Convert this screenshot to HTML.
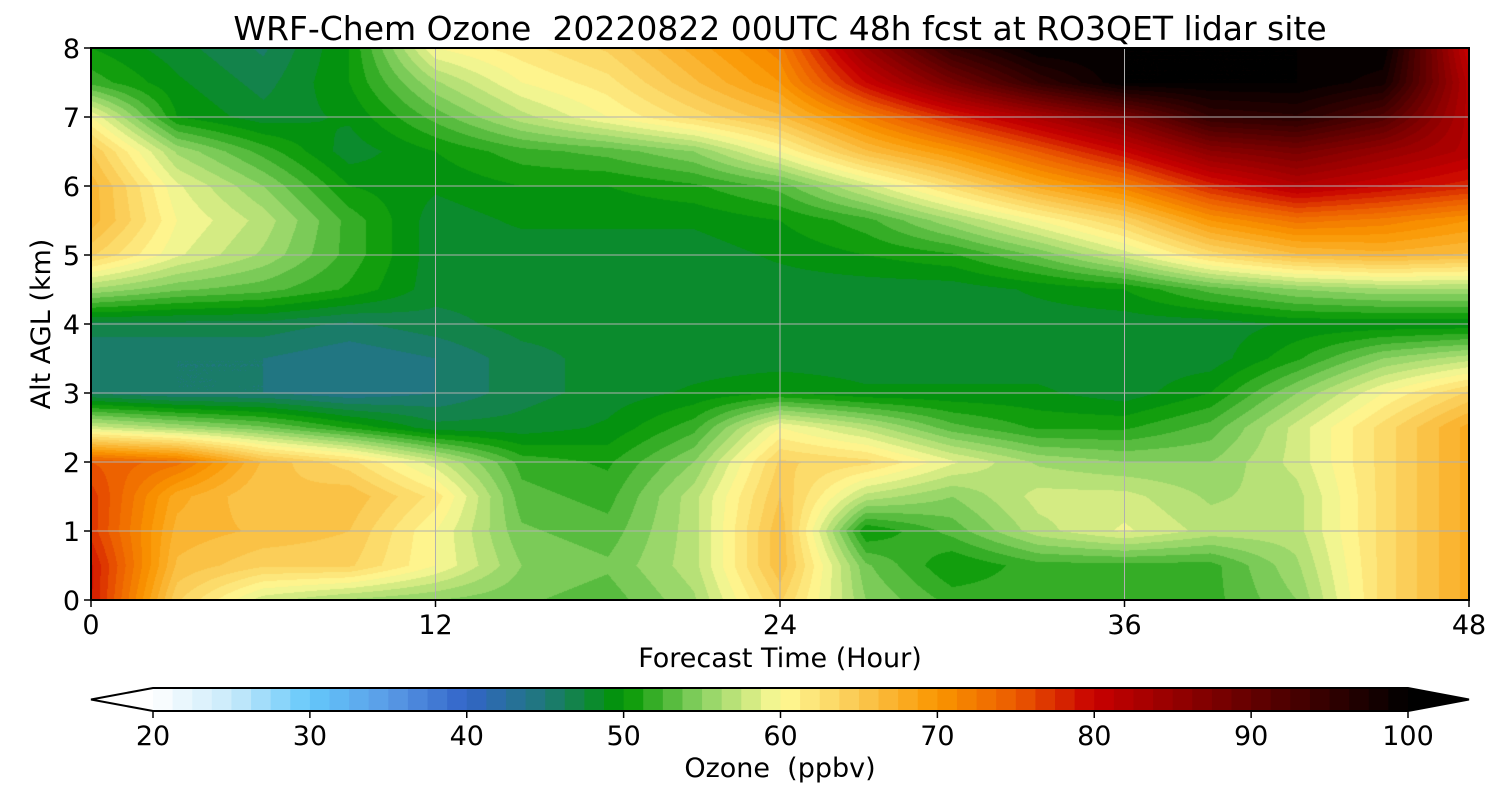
<!DOCTYPE html>
<html><head><meta charset="utf-8">
<style>
body{margin:0;background:#fff;width:1500px;height:800px;position:relative;overflow:hidden;font-family:"DejaVu Sans","Liberation Sans",sans-serif}
#plot{position:absolute;left:91px;top:48px}
svg{position:absolute;left:0;top:0}
text{white-space:pre}
</style></head>
<body>
<canvas id="plot" width="1378" height="552"></canvas>
<svg id="chart" width="1500" height="800"></svg>
<script>
const times=[0,3,6,9,12,15,18,21,24,27,30,33,36,39,42,45,48];
const heights=[8,7.5,7,6.5,6,5.5,5,4.5,4,3.5,3,2.5,2,1.5,1,0.5,0];
const ozone=[
[50,48,46,50,60,62,64,68,72,85,95,100,100,100,100,100,80],
[52,49,47,50,56,60,62,66,70,80,88,95,100,100,100,98,82],
[60,50,48,49,53,57,60,63,66,72,78,83,88,95,96,92,82],
[65,56,52,48,50,52,53,55,60,66,70,75,80,86,88,85,82],
[67,59,55,50,49,50,50,51,53,58,63,68,72,78,82,80,78],
[67,60,57,52,48,49,49,49,50,52,56,60,64,70,73,72,70],
[64,59,56,52,48,48,48,48,49,50,51,54,58,63,66,67,66],
[56,54,53,51,48,48,48,48,48,48,48,49,50,53,55,56,56],
[47,47,47,46,47,48,48,48,48,48,48,48,48,48,49,49,49],
[45,45,45,44,45,47,48,48,48,48,48,48,48,48,51,55,57],
[46,45,45,44,45,47,48,49,50,49,49,49,48,50,55,60,64],
[58,56,54,51,48,48,49,52,60,57,53,51,51,53,58,63,68],
[75,73,66,63,58,52,51,55,64,63,59,56,55,55,58,63,68],
[77,68,65,66,62,53,52,57,65,57,55,58,58,56,57,63,68],
[77,67,66,65,60,54,53,57,66,50,53,57,59,57,57,63,68],
[79,66,64,64,60,55,54,57,66,54,50,52,52,52,56,63,68],
[79,64,58,56,55,54,53,56,64,55,52,52,52,52,55,63,68]];
const xTicks=[0,12,24,36,48];
const yTicks=[0,1,2,3,4,5,6,7,8];
const cbTicks=[20,30,40,50,60,70,80,90,100];
const stops=[[20,'#ffffff'],[25,'#c8eafa'],[30,'#64c8fa'],[35,'#5a9be6'],[40,'#3264c8'],[45,'#1e7878'],[50,'#009600'],[55,'#8cd264'],[60,'#fffa96'],[65,'#fac850'],[70,'#fa9600'],[75,'#eb5a00'],[80,'#c80000'],[90,'#640000'],[100,'#000000']];

const PL=91,PR=1469,PT=48,PB=600;
const xs=t=>PL+(t-0)/48*(PR-PL);
const ys=z=>PB-(z/8)*(PB-PT);
const CL=153,CR=1408;
const cx=v=>CL+(v-20)/80*(CR-CL);
function hex(h){return [1,3,5].map(i=>parseInt(h.substr(i,2),16));}
function cmap(v){
  v=Math.max(20,Math.min(100,v));
  for(let i=0;i<stops.length-1;i++){
    if(v<=stops[i+1][0]){const a=hex(stops[i][1]),b=hex(stops[i+1][1]);const f=(v-stops[i][0])/(stops[i+1][0]-stops[i][0]);return a.map((c,k)=>Math.round(c+(b[k]-c)*f));}
  }
  return [0,0,0];
}
const STEP=1.25;
const q=v=>Math.floor((v-20)/STEP)*STEP+20+STEP/2;
const cv=document.getElementById('plot'),ctx=cv.getContext('2d');
const W=cv.width,H=cv.height,img=ctx.createImageData(W,H);
for(let py=0;py<H;py++){
  const z=8-(py+0.5)/H*8;
  let r=(8-z)/0.5;let r0=Math.min(Math.floor(r),heights.length-2);const fr=r-r0;
  for(let px=0;px<W;px++){
    const t=(px+0.5)/W*48;
    let c=t/3;let c0=Math.min(Math.floor(c),times.length-2);const fc=c-c0;
    const v=ozone[r0][c0]*(1-fr)*(1-fc)+ozone[r0][c0+1]*(1-fr)*fc+ozone[r0+1][c0]*fr*(1-fc)+ozone[r0+1][c0+1]*fr*fc;
    const col=cmap(q(v));const i=(py*W+px)*4;
    img.data[i]=col[0];img.data[i+1]=col[1];img.data[i+2]=col[2];img.data[i+3]=255;
  }
}
ctx.putImageData(img,0,0);
const svg=document.getElementById('chart');const NS='http://www.w3.org/2000/svg';
function el(tag,attrs,text){const e=document.createElementNS(NS,tag);for(const k in attrs)e.setAttribute(k,attrs[k]);if(text!==undefined)e.textContent=text;svg.appendChild(e);return e;}
xTicks.forEach(t=>{
  const g=el('line',{x1:xs(t),x2:xs(t),y1:PT,y2:PB,stroke:'#b0b0b0','stroke-width':1});
  
  
  const tk=el('line',{x1:xs(t),x2:xs(t),y1:PB,y2:PB+7,stroke:'#000','stroke-width':1.5});
  
  
  const l=el('text',{x:xs(t),y:634,'font-size':27,'text-anchor':'middle'},String(t));
  
  
});
yTicks.forEach(z=>{
  const g=el('line',{x1:PL,x2:PR,y1:ys(z),y2:ys(z),stroke:'#b0b0b0','stroke-width':1});
  
  
  const tk=el('line',{x1:PL-7,x2:PL,y1:ys(z),y2:ys(z),stroke:'#000','stroke-width':1.5});
  
  
  const l=el('text',{x:PL-11,y:ys(z)+10,'font-size':27,'text-anchor':'end'},String(z));
  
  
});
const frm=el('rect',{x:PL,y:PT,width:PR-PL,height:PB-PT,fill:'none',stroke:'#000','stroke-width':2});


const ti=el('text',{x:780,y:40,'font-size':33,'text-anchor':'middle'},'WRF-Chem Ozone  20220822 00UTC 48h fcst at RO3QET lidar site');


const xl=el('text',{x:780,y:667,'font-size':27,'text-anchor':'middle'},'Forecast Time (Hour)');


const yl=el('text',{x:0,y:0,'font-size':27,'text-anchor':'middle',transform:'translate(50,324) rotate(-90)'},'Alt AGL (km)');


const CT=688,CB=711;
for(let v=20;v<100-1e-9;v+=STEP){
  const c=cmap(v+STEP/2);
  const r=el('rect',{x:cx(v),y:CT,width:cx(v+STEP)-cx(v)+0.6,height:CB-CT,fill:`rgb(${c[0]},${c[1]},${c[2]})`});
  
  
}
const lt=el('polygon',{points:`${CL},${CT} 91,${(CT+CB)/2} ${CL},${CB}`,fill:'#fff'});


const rt=el('polygon',{points:`${CR},${CT} 1469,${(CT+CB)/2} ${CR},${CB}`,fill:'#000'});


const ob=el('polygon',{points:`${CL},${CT} ${CR},${CT} 1469,${(CT+CB)/2} ${CR},${CB} ${CL},${CB} 91,${(CT+CB)/2}`,fill:'none',stroke:'#000','stroke-width':2});


cbTicks.forEach(v=>{
  const tk=el('line',{x1:cx(v),x2:cx(v),y1:CB,y2:CB+7,stroke:'#000','stroke-width':1.5});
  
  
  const l=el('text',{x:cx(v),y:745,'font-size':27,'text-anchor':'middle'},String(v));
  
  
});
const cl=el('text',{x:780,y:777,'font-size':27,'text-anchor':'middle'},'Ozone  (ppbv)');


</script>
</body></html>
